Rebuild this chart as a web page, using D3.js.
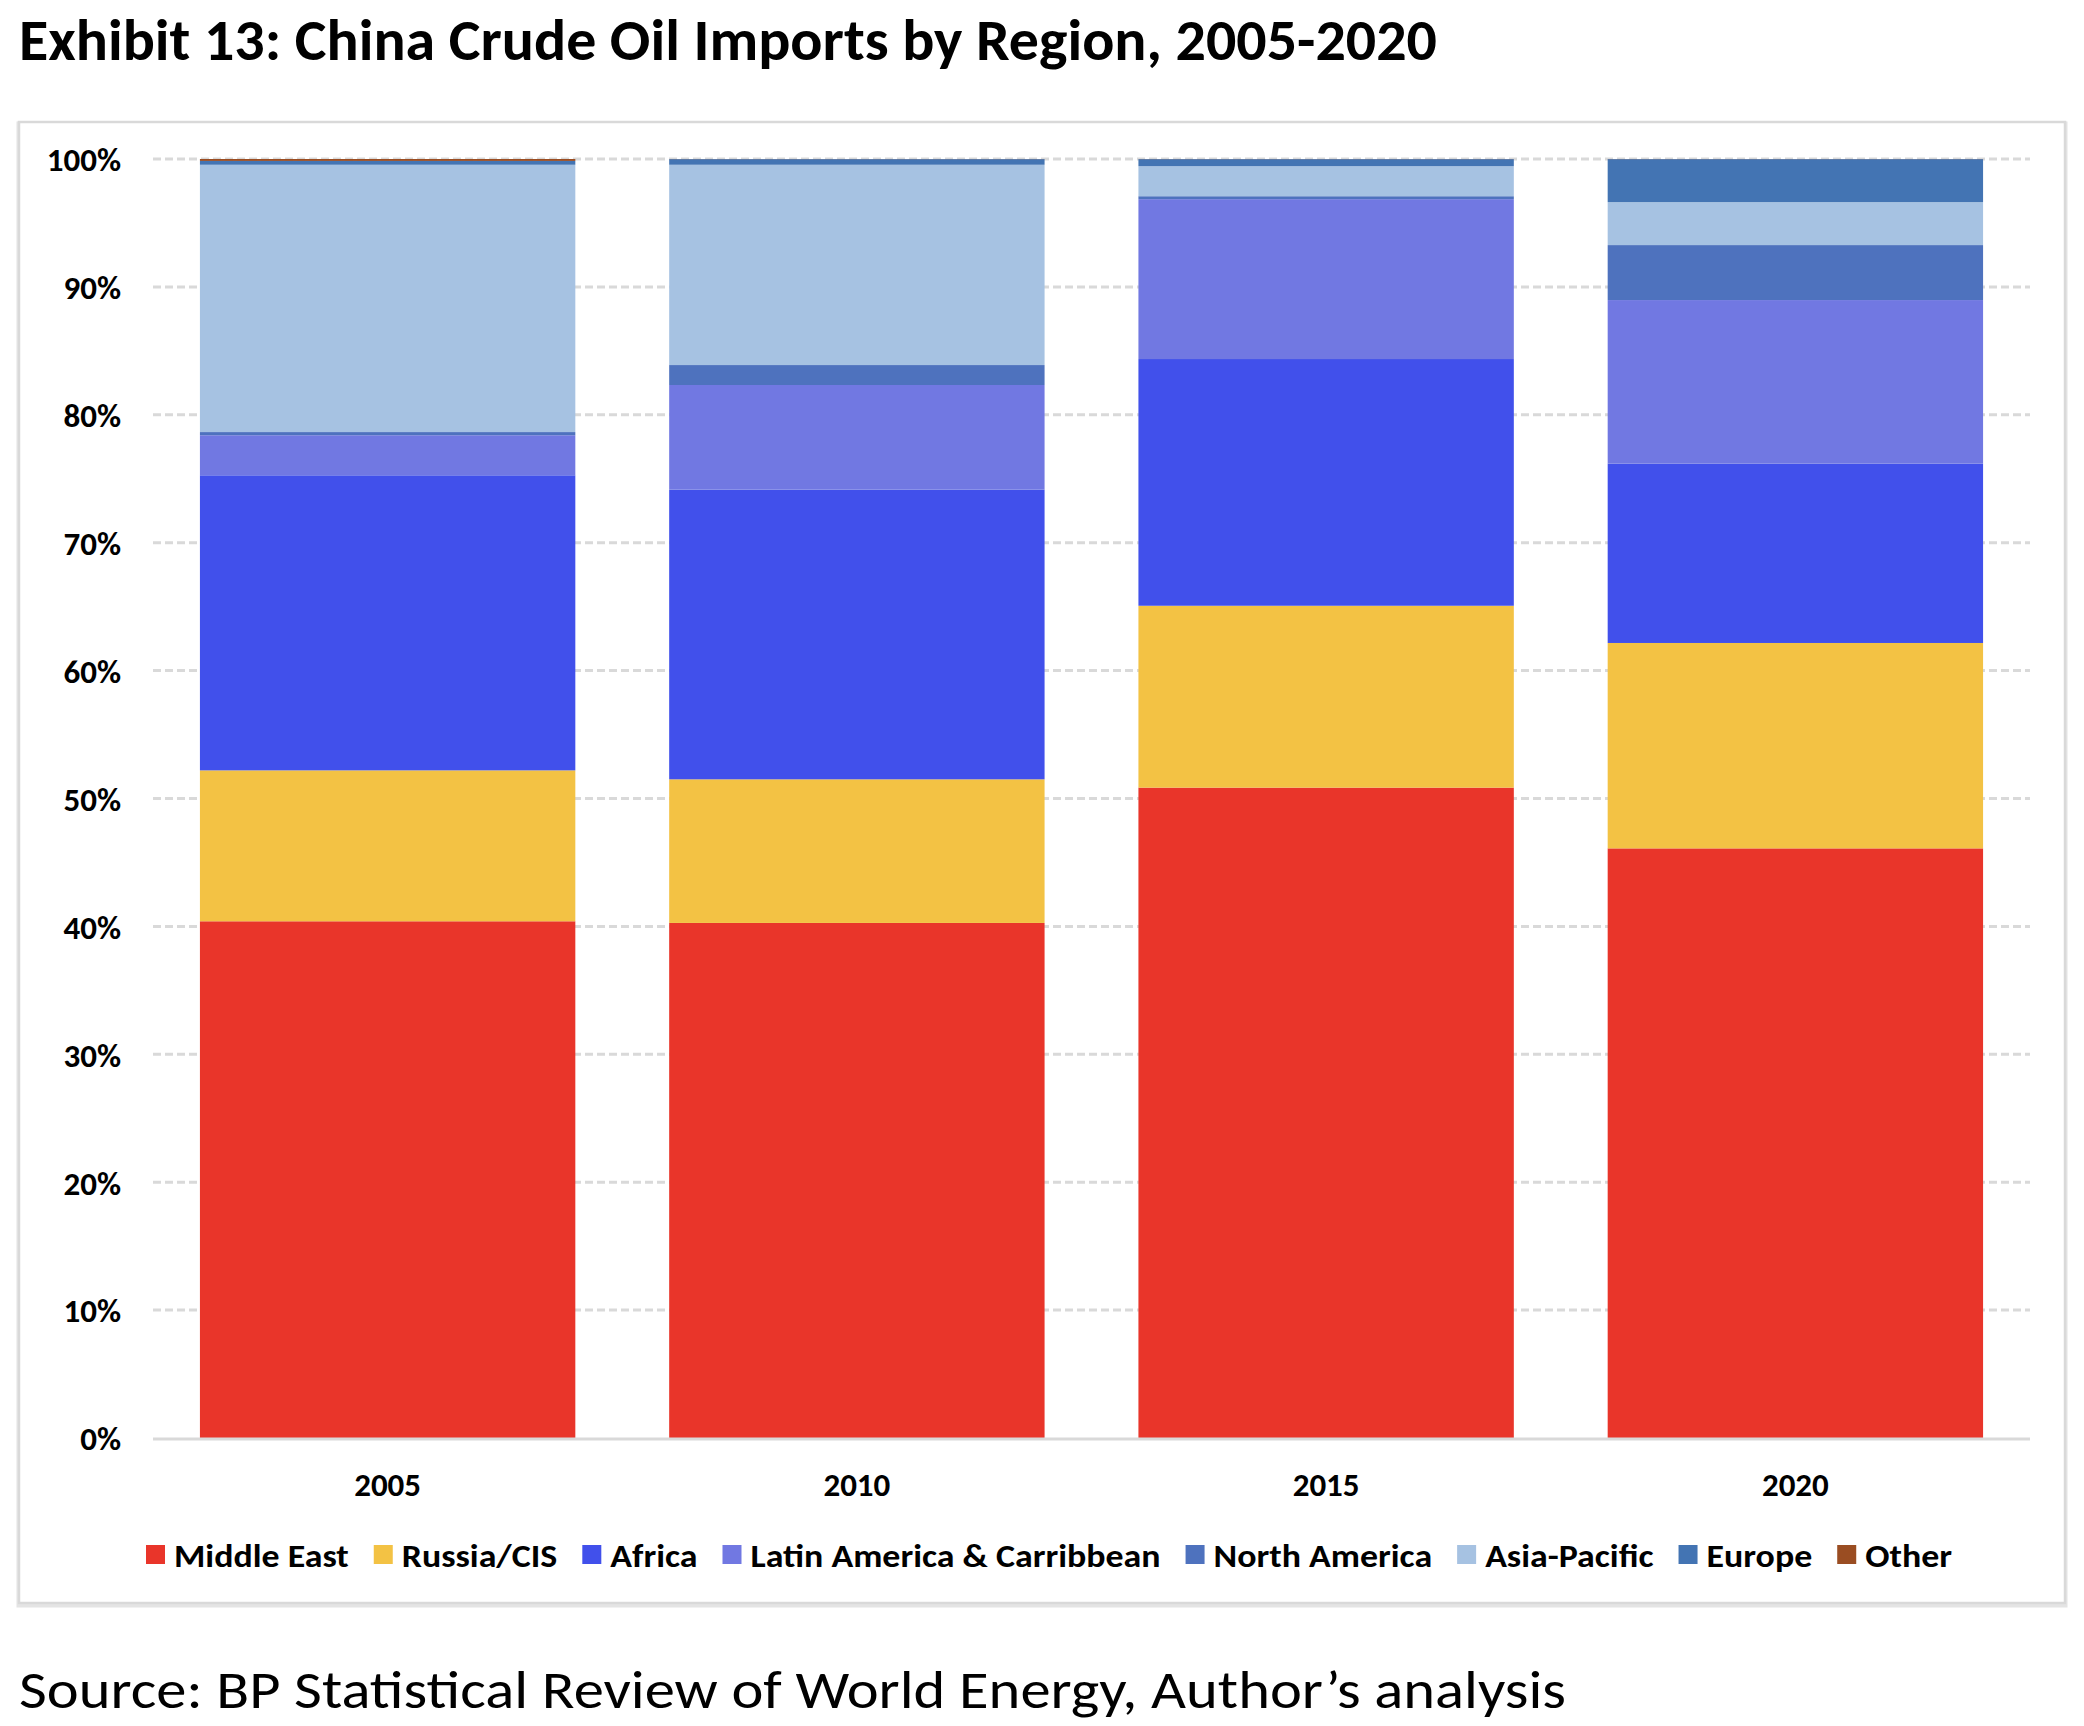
<!DOCTYPE html>
<html>
<head>
<meta charset="utf-8">
<script src="https://cdn.jsdelivr.net/npm/d3@7"></script>
<style>
  html, body { margin: 0; padding: 0; background: #fff; }
  svg { display: block; }
  text { font-family: Carlito, Lato, "Open Sans", sans-serif; }
</style>
</head>
<body>
<script>
// ---- data ----
const years = ["2005", "2010", "2015", "2020"];
const regions = ["Middle East", "Russia/CIS", "Africa", "Latin America & Carribbean", "North America", "Asia-Pacific", "Europe", "Other"];
const middleEast   = [40.40, 40.27, 50.85, 46.10];
const russiaCIS    = [11.80, 11.23, 14.22, 16.06];
const africa       = [23.07, 22.65, 19.29, 14.02];
const latinAmerica = [ 3.13,  8.18, 12.50, 12.79];
const northAmerica = [ 0.25,  1.56,  0.23,  4.30];
const asiaPacific  = [20.90, 15.66,  2.35,  3.36];
const europe       = [ 0.30,  0.44,  0.55,  3.36];
const other        = [ 0.15,  0.01,  0.01,  0.01];
const yTicks = [0, 10, 20, 30, 40, 50, 60, 70, 80, 90, 100];
const colors = ["#E9352A", "#F3C244", "#4150EB", "#7178E2", "#4E72BE", "#A6C2E2", "#4374B3", "#9A4D22"];

const seriesValues = [middleEast, russiaCIS, africa, latinAmerica, northAmerica, asiaPacific, europe, other];
const table = years.map((y, i) => {
  const row = { year: y };
  regions.forEach((r, k) => row[r] = seriesValues[k][i]);
  return row;
});

const W = 2084, H = 1726;
const svg = d3.select("body").append("svg").attr("width", W).attr("height", H);

// frame
svg.append("rect").attr("x", 19).attr("y", 124).attr("width", 2046).attr("height", 1481)
  .attr("fill", "none").attr("stroke", "#e4e4e4").attr("stroke-width", 5);
svg.append("rect").attr("x", 19).attr("y", 122).attr("width", 2046).attr("height", 1481)
  .attr("fill", "#fff").attr("stroke", "#d9d9d9").attr("stroke-width", 2.5);

// title
svg.append("text").attr("x", 19).attr("y", 60)
  .attr("font-size", 58).attr("font-weight", "bold").attr("fill", "#000")
  .attr("textLength", 1418).attr("lengthAdjust", "spacingAndGlyphs")
  .text("Exhibit 13: China Crude Oil Imports by Region, 2005-2020");

// source
svg.append("text").attr("x", 19).attr("y", 1708)
  .attr("font-size", 54).attr("fill", "#000")
  .attr("textLength", 1547).attr("lengthAdjust", "spacingAndGlyphs")
  .text("Source: BP Statistical Review of World Energy, Author\u2019s analysis");

// scales
const x = d3.scaleBand().domain(years).range([153, 2030]).paddingInner(0.2).paddingOuter(0.1);
const y = d3.scaleLinear().domain([0, 100]).range([1438, 159]);

// gridlines
const grid = svg.append("g");
grid.selectAll("line").data(yTicks.filter(t => t > 0)).join("line")
  .attr("x1", 153).attr("x2", 2030)
  .attr("y1", d => y(d)).attr("y2", d => y(d))
  .attr("stroke", "#d9d9d9").attr("stroke-width", 3).attr("stroke-dasharray", "8,4");

// stacked bars
const stack = d3.stack().keys(regions)(table);
const bars = svg.append("g");
stack.forEach((layer, k) => {
  bars.append("g").attr("fill", colors[k])
    .selectAll("rect").data(layer).join("rect")
    .attr("x", d => x(d.data.year))
    .attr("width", x.bandwidth())
    .attr("y", d => y(d[1]))
    .attr("height", d => Math.max(0, y(d[0]) - y(d[1])));
});

// baseline
svg.append("line").attr("x1", 153).attr("x2", 2030).attr("y1", y(0) + 1).attr("y2", y(0) + 1)
  .attr("stroke", "#d9d9d9").attr("stroke-width", 3);

// y axis
const yAxis = d3.axisLeft(y).tickValues(yTicks).tickFormat(d => d + "%").tickSize(0).tickPadding(0);
const yg = svg.append("g").attr("transform", "translate(121,0)").call(yAxis);
yg.select(".domain").remove();
yg.selectAll("text").attr("font-size", 33).attr("font-weight", "bold").attr("fill", "#000")
  .attr("font-family", null).attr("dy", "0.36em");

// x axis
const xAxis = d3.axisBottom(x).tickSize(0).tickPadding(0);
const xg = svg.append("g").attr("transform", "translate(0,1484)").call(xAxis);
xg.select(".domain").remove();
xg.selectAll("text").attr("font-size", 33).attr("font-weight", "bold").attr("fill", "#000")
  .attr("font-family", null).attr("dy", "0.36em");

// legend
const legend = svg.append("g");
const items = legend.selectAll("g").data(regions).join("g");
items.append("rect").attr("width", 19).attr("height", 19).attr("y", 1545)
  .attr("fill", (d, i) => colors[i]);
const labels = items.append("text").attr("x", 28).attr("y", 1555).attr("dy", "0.36em")
  .attr("font-size", 33).attr("font-weight", "bold").attr("fill", "#000").text(d => d);
// fit legend to the reference span (146 .. 1952)
const targetSpan = 1806;
let natural = 0;
labels.each(function () { natural += this.getComputedTextLength(); });
const fixed = regions.length * 28 + (regions.length - 1) * 25;
const k = (targetSpan - fixed) / natural;
let cx = 0;
const offsets = [];
labels.each(function () {
  const w = this.getComputedTextLength() * k;
  d3.select(this).attr("textLength", w).attr("lengthAdjust", "spacingAndGlyphs");
  offsets.push(cx);
  cx += 28 + w + 25;
});
const total = cx - 25;
const start = 1049 - total / 2;
items.attr("transform", (d, i) => `translate(${start + offsets[i]},0)`);
</script>
</body>
</html>
